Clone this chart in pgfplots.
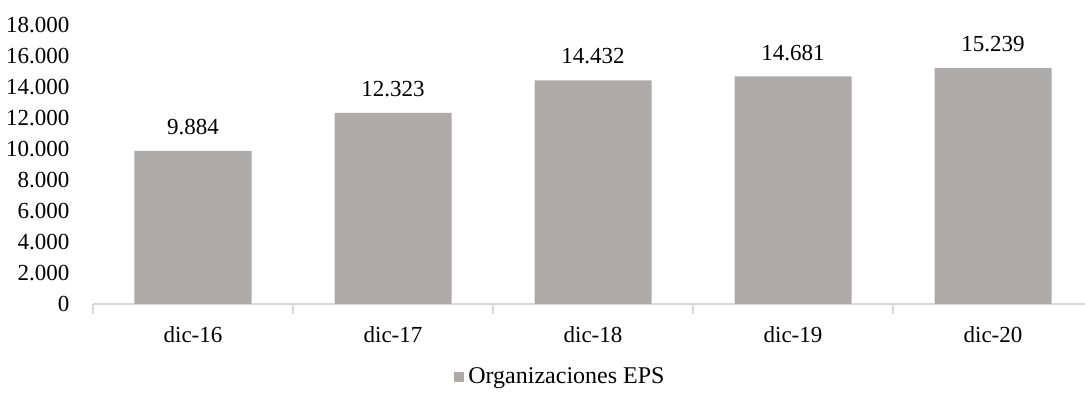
\documentclass[border=0pt]{standalone}
\usepackage{pgfplots}
\pgfplotsset{compat=1.18}
\usepackage{fontspec}
\setmainfont{Liberation Serif}
\definecolor{barfill}{HTML}{AEAAAA}
\definecolor{axisgray}{HTML}{D9D9D9}
\begin{document}
\fontsize{11.5}{13}\selectfont
\begin{tikzpicture}
\useasboundingbox (-46.5pt,-45.5pt) rectangle (496pt,152pt);
\begin{axis}[
  at={(0,0)}, anchor=south west,
  scale only axis,
  width=496pt, height=139.5pt,
  xmin=-0.5, xmax=4.46,
  ymin=0, ymax=18000,
  ytick={0,2000,...,18000},
  scaled y ticks=false,
  /pgf/number format/.cd, 1000 sep={.}, assume math mode=true,
  /pgfplots/.cd,
  axis x line*=bottom,
  axis y line*=left,
  x axis line style={draw=axisgray, line width=0.8pt, -},
  y axis line style={draw=none},
  major y tick style={draw=none},
  yticklabel style={xshift=-3.5pt},
  xtick={0,1,2,3,4},
  xticklabels={dic-16,dic-17,dic-18,dic-19,dic-20},
  major x tick style={draw=none},
  minor xtick={-0.5,0.5,1.5,2.5,3.5},
  minor x tick style={draw=axisgray, line width=0.8pt},
  minor tick length=5pt,
  tick align=outside,
  xticklabel style={yshift=-3pt},
  ticklabel style={font=\fontsize{11.5}{13}\selectfont},
  ybar, bar width=58.5pt,
  nodes near coords,
  nodes near coords style={yshift=4pt, font=\fontsize{11.5}{13}\selectfont},
  legend style={at={(rel axis cs:0.472,-0.262)}, anchor=center, draw=none,
    font=\fontsize{12}{14}\selectfont, inner sep=0pt},
  legend image code/.code={\fill[barfill] (0pt,-2.6pt) rectangle (5.2pt,2.6pt);},
]
\addplot[fill=barfill, draw=none] coordinates {(0,9884) (1,12323) (2,14432) (3,14681) (4,15239)};
\addlegendentry{Organizaciones EPS}
\end{axis}
\end{tikzpicture}
\end{document}
